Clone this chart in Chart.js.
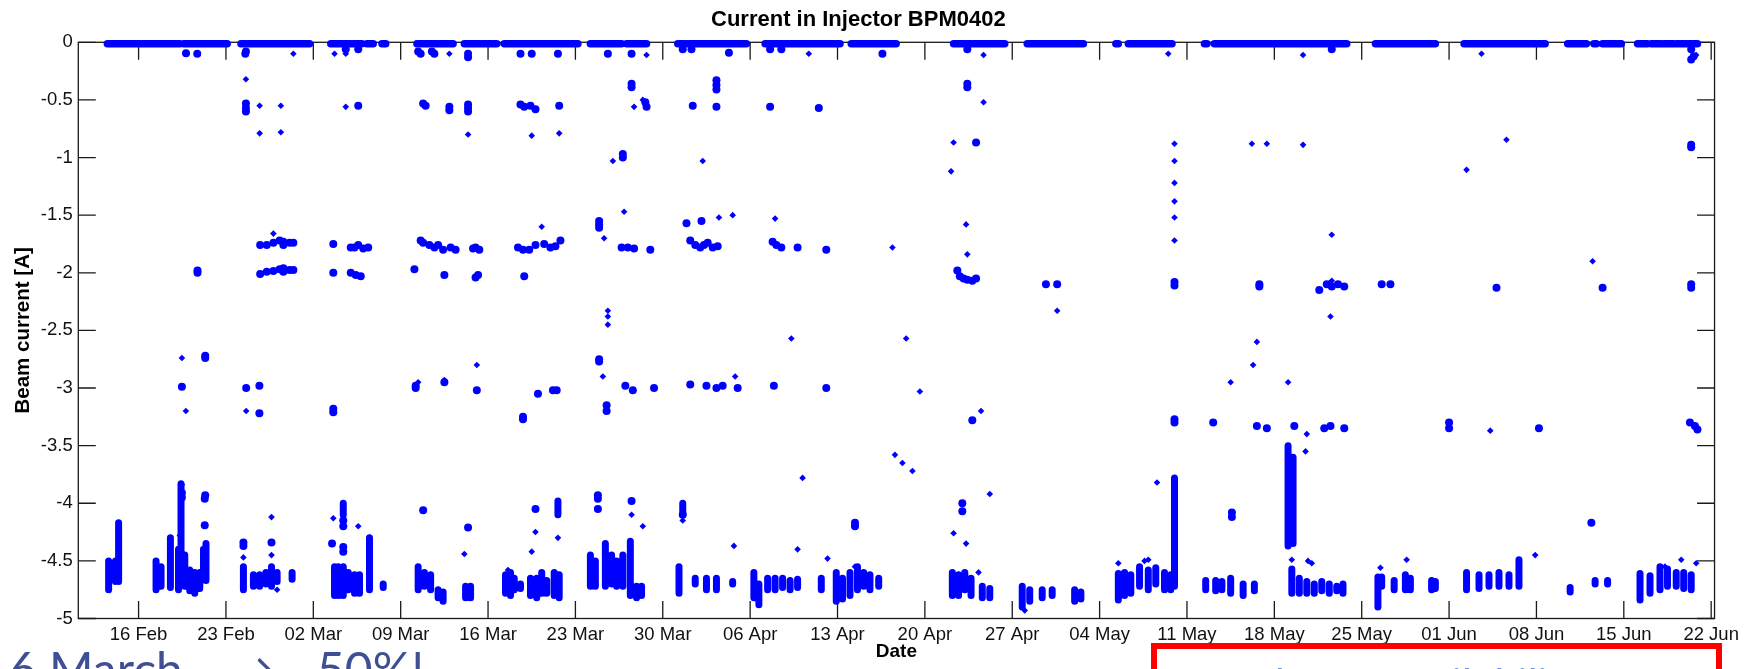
<!DOCTYPE html>
<html lang="en">
<head>
<meta charset="UTF-8">
<title>Current in Injector BPM0402</title>
<script src="https://cdn.jsdelivr.net/npm/chart.js"></script>
<style>
  html, body { margin: 0; padding: 0; background: #fff; overflow: hidden; }
  #wrap { position: relative; width: 1744px; height: 669px; overflow: hidden; }
  #chart { position: absolute; left: 0; top: 0; }
  .note { position: absolute; top: 645px; font-family: Lato, "Open Sans", sans-serif; font-size: 48px; line-height: 48px; color: #3f4f96; white-space: nowrap; }
  #bestBox { position: absolute; left: 1151px; top: 643px; width: 571px; height: 120px; border: 6px solid #ff0000; box-sizing: border-box; }
  #bestText { position: absolute; left: 1182px; top: 662px; font-family: Lato, "Open Sans", sans-serif; font-style: italic; font-size: 44px; line-height: 44px; color: #6d8ee0; white-space: nowrap; }
</style>
</head>
<body>
<div id="wrap">
  <canvas id="chart" width="1744" height="669"></canvas>
  <div class="note" style="left:-19px">16 March</div>
  <div class="note" style="left:228px">→</div>
  <div class="note" style="left:317px">50%!</div>
  <div id="bestBox"></div>
  <div id="bestText">Best beam availability!!</div>
</div>

<script>
// x values are days counted from 16 Feb
const weekTicks = [0, 7, 14, 21, 28, 35, 42, 49, 56, 63, 70, 77, 84, 91, 98, 105, 112, 119, 126];
const weekLabels = ['16 Feb', '23 Feb', '02 Mar', '09 Mar', '16 Mar', '23 Mar', '30 Mar', '06 Apr', '13 Apr',
    '20 Apr', '27 Apr', '04 May', '11 May', '18 May', '25 May', '01 Jun', '08 Jun', '15 Jun', '22 Jun'];
const yTicks = [0, -0.5, -1, -1.5, -2, -2.5, -3, -3.5, -4, -4.5, -5];

// beam off: readings sit on the 0 A line, [start day, end day]
const zeroLevel = -0.012;
const zeroRuns = [[-2.5, 3.3], [3.6, 7.1], [8.2, 13.7], [15.4, 17.9], [18.3, 18.8], [19.5, 19.8], [22.3, 25.2],
    [26.1, 28.7], [29.3, 35.2], [36.2, 38.7], [39.1, 40.7], [43.2, 48.7], [50.2, 56.2], [57.1, 60.7], [65.3, 69.4],
    [71.2, 75.7], [78.3, 78.5], [79.3, 82.8], [85.4, 85.6], [86.2, 96.8], [99.1, 103.9], [106.2, 112.7],
    [114.5, 116.0], [116.6, 116.8], [117.3, 118.8], [120.1, 120.9], [121.2, 122.0], [122.2, 123.0], [123.2, 124.9]];

// dense stacks of readings, [day, top A, bottom A]
const columnRuns = [
    [-2.4, -4.5, -4.75], [-1.85, -4.5, -4.68], [-1.6, -4.17, -4.68], [1.4, -4.5, -4.75], [1.8, -4.55, -4.72],
    [2.55, -4.3, -4.73], [3.2, -4.4, -4.75], [3.4, -3.83, -4.6], [3.7, -4.45, -4.72], [4.1, -4.58, -4.76],
    [4.5, -4.6, -4.78], [4.9, -4.6, -4.74], [5.2, -4.4, -4.65], [5.4, -4.35, -4.67],
    [8.4, -4.55, -4.75], [9.2, -4.62, -4.72], [9.7, -4.62, -4.72], [10.2, -4.6, -4.7], [10.65, -4.55, -4.72],
    [11.1, -4.6, -4.68], [12.3, -4.6, -4.66],
    [15.7, -4.55, -4.8], [16.0, -4.55, -4.8], [16.4, -4.55, -4.8], [16.4, -4.0, -4.1], [16.8, -4.6, -4.75],
    [17.3, -4.62, -4.78], [17.7, -4.62, -4.78], [18.5, -4.3, -4.75], [19.6, -4.7, -4.73],
    [22.4, -4.55, -4.75], [22.9, -4.6, -4.72], [23.4, -4.62, -4.75], [24.0, -4.75, -4.82], [24.4, -4.77, -4.85],
    [26.2, -4.72, -4.82], [26.6, -4.72, -4.82], [29.4, -4.62, -4.78], [29.8, -4.6, -4.8], [30.1, -4.65, -4.75],
    [30.6, -4.7, -4.74], [31.4, -4.65, -4.8], [31.9, -4.65, -4.82], [32.3, -4.6, -4.78], [32.7, -4.67, -4.78],
    [33.3, -4.6, -4.8], [33.7, -4.62, -4.82], [33.6, -3.98, -4.1],
    [36.2, -4.45, -4.72], [36.6, -4.5, -4.72], [37.4, -4.35, -4.72], [37.9, -4.45, -4.7], [38.3, -4.5, -4.72],
    [38.8, -4.45, -4.72], [39.4, -4.33, -4.8], [39.9, -4.72, -4.82], [40.3, -4.72, -4.8], [43.3, -4.55, -4.78],
    [43.6, -4.0, -4.1], [44.6, -4.65, -4.7],
    [45.5, -4.65, -4.75], [46.3, -4.65, -4.75], [47.6, -4.68, -4.7], [49.3, -4.6, -4.82], [49.7, -4.7, -4.88],
    [50.4, -4.65, -4.75], [51.0, -4.65, -4.75], [51.6, -4.65, -4.73], [52.2, -4.67, -4.75], [52.8, -4.66, -4.73],
    [54.7, -4.65, -4.75], [55.9, -4.6, -4.85], [56.4, -4.65, -4.83], [57.0, -4.6, -4.8], [57.6, -4.55, -4.75],
    [58.1, -4.6, -4.72], [58.6, -4.62, -4.75], [59.3, -4.65, -4.72],
    [65.2, -4.6, -4.8], [65.7, -4.62, -4.8], [66.2, -4.6, -4.75], [66.7, -4.65, -4.8], [67.6, -4.72, -4.82],
    [68.2, -4.74, -4.82], [70.8, -4.72, -4.9], [71.4, -4.75, -4.85], [72.4, -4.75, -4.82], [73.2, -4.75, -4.8],
    [75.0, -4.75, -4.85], [75.5, -4.77, -4.83],
    [78.5, -4.61, -4.84], [79.0, -4.6, -4.8], [79.5, -4.62, -4.78], [80.2, -4.55, -4.72], [80.9, -4.58, -4.75],
    [81.5, -4.56, -4.7], [82.2, -4.6, -4.75], [82.7, -4.62, -4.75], [83.0, -3.78, -4.72],
    [85.5, -4.67, -4.75], [86.3, -4.67, -4.76], [86.8, -4.68, -4.75], [87.5, -4.65, -4.78], [88.5, -4.7, -4.8],
    [89.4, -4.7, -4.76],
    [92.1, -3.5, -4.37], [92.5, -3.6, -4.35], [92.4, -4.57, -4.78], [93.0, -4.65, -4.78], [93.6, -4.68, -4.78],
    [94.2, -4.7, -4.78], [94.8, -4.68, -4.76], [95.4, -4.7, -4.78], [96.0, -4.72, -4.76], [96.5, -4.7, -4.78],
    [99.3, -4.64, -4.9], [99.6, -4.64, -4.72], [100.6, -4.67, -4.75], [101.5, -4.62, -4.75], [101.9, -4.65, -4.75],
    [103.6, -4.67, -4.75], [103.9, -4.68, -4.74],
    [106.4, -4.6, -4.75], [107.4, -4.62, -4.74], [108.2, -4.62, -4.72], [109.0, -4.6, -4.72], [109.8, -4.62, -4.72],
    [110.6, -4.49, -4.72], [114.7, -4.73, -4.77], [116.7, -4.67, -4.7], [117.7, -4.67, -4.7],
    [120.3, -4.61, -4.84], [121.1, -4.63, -4.78], [121.9, -4.55, -4.75], [122.5, -4.57, -4.72], [123.2, -4.6, -4.72],
    [123.8, -4.6, -4.74], [124.4, -4.62, -4.75]];

// heavier single readings, [day, A]
const blobs = [
    [3.8, -0.094], [4.7, -0.1], [8.55, -0.1], [8.6, -0.08], [22.6, -0.1], [22.4, -0.08], [23.7, -0.1], [23.5, -0.08],
    [26.4, -0.1], [26.4, -0.13], [30.6, -0.1], [31.5, -0.1], [33.6, -0.1], [37.6, -0.1], [39.5, -0.1], [47.3, -0.09],
    [59.6, -0.1], [124.6, -0.12], [124.4, -0.15], [16.6, -0.06], [17.6, -0.06], [43.6, -0.06], [44.3, -0.06],
    [50.6, -0.06], [51.5, -0.06], [66.4, -0.06], [95.6, -0.06], [124.4, -0.06],
    [8.6, -0.53], [8.6, -0.57], [8.6, -0.6], [17.6, -0.55], [22.8, -0.53], [23.0, -0.55], [24.9, -0.56], [24.9, -0.59],
    [26.4, -0.54], [26.4, -0.57], [26.4, -0.6], [30.6, -0.54], [30.9, -0.56], [31.4, -0.55], [31.8, -0.58],
    [33.7, -0.55], [39.5, -0.36], [39.5, -0.39], [40.6, -0.52], [40.7, -0.56], [44.4, -0.55], [46.3, -0.33],
    [46.3, -0.37], [46.3, -0.41], [46.3, -0.56], [50.6, -0.56], [54.5, -0.57], [66.4, -0.36], [66.4, -0.39],
    [67.1, -0.87], [124.4, -0.89], [124.4, -0.91], [38.8, -0.97], [38.8, -1.0],
    [4.72, -1.98], [4.72, -2.0], [9.74, -1.76], [10.27, -1.76], [10.8, -1.74], [11.3, -1.72], [11.6, -1.73],
    [11.6, -1.76], [12.1, -1.74], [12.4, -1.74], [9.74, -2.01], [10.27, -1.99], [10.8, -1.985], [11.3, -1.97],
    [11.6, -1.96], [11.6, -1.99], [12.1, -1.975], [12.4, -1.975],
    [15.6, -1.75], [15.6, -2.0], [17.0, -1.78], [17.3, -1.78], [17.6, -1.76], [18.0, -1.79], [18.4, -1.78],
    [17.0, -2.0], [17.4, -2.02], [17.8, -2.03],
    [22.6, -1.72], [22.8, -1.74], [23.3, -1.76], [23.7, -1.78], [24.0, -1.76], [24.4, -1.8], [25.0, -1.78],
    [25.4, -1.8], [22.1, -1.97], [24.5, -2.02],
    [26.8, -1.79], [27.0, -1.78], [27.3, -1.8], [27.0, -2.04], [27.2, -2.02],
    [30.4, -1.78], [30.8, -1.8], [31.3, -1.8], [31.8, -1.76], [32.5, -1.75], [33.0, -1.78], [33.4, -1.77],
    [33.8, -1.72], [30.9, -2.03],
    [36.9, -1.55], [36.9, -1.58], [36.9, -1.61], [38.7, -1.78], [39.2, -1.78], [39.7, -1.79], [41.0, -1.8],
    [43.9, -1.57], [44.2, -1.72], [44.6, -1.76], [45.0, -1.78], [45.3, -1.76], [45.6, -1.74], [46.0, -1.78],
    [46.4, -1.77], [45.1, -1.55],
    [50.8, -1.73], [51.1, -1.76], [51.5, -1.78], [52.8, -1.78], [55.1, -1.8],
    [65.6, -1.98], [65.8, -2.03], [66.1, -2.05], [66.4, -2.06], [66.8, -2.07], [67.1, -2.05],
    [72.7, -2.1], [73.6, -2.1], [83.0, -2.08], [83.0, -2.11], [89.8, -2.1], [89.8, -2.12], [95.2, -2.1],
    [95.6, -2.12], [96.1, -2.1], [96.6, -2.12], [94.6, -2.15], [99.6, -2.1], [100.3, -2.1], [108.8, -2.13],
    [117.3, -2.13], [124.4, -2.1], [124.4, -2.13],
    [3.47, -2.99], [5.34, -2.72], [5.34, -2.74], [8.62, -3.0], [9.68, -2.98], [9.68, -3.22], [15.6, -3.18],
    [15.6, -3.21], [22.2, -2.98], [22.2, -3.0], [24.5, -2.95], [27.1, -3.02], [30.8, -3.25], [30.8, -3.27],
    [33.2, -3.02], [33.5, -3.02], [32.0, -3.05], [36.9, -2.75], [36.9, -2.77], [37.5, -3.15], [37.5, -3.2],
    [39.0, -2.98], [39.6, -3.02], [41.3, -3.0], [44.2, -2.97], [45.5, -2.98], [46.3, -3.0], [46.8, -2.98],
    [48.0, -3.0], [50.9, -2.98], [55.1, -3.0], [66.8, -3.28], [83.0, -3.27], [83.0, -3.3], [86.1, -3.3],
    [89.6, -3.33], [90.4, -3.35], [92.6, -3.33], [95.0, -3.35], [95.5, -3.33], [96.6, -3.35], [105.0, -3.3],
    [105.0, -3.35], [112.2, -3.35], [124.3, -3.3], [124.7, -3.33], [124.9, -3.36],
    [3.47, -3.91], [3.47, -3.95], [5.34, -3.93], [5.3, -3.96], [5.3, -4.19], [16.4, -4.15], [16.4, -4.2],
    [22.8, -4.06], [26.4, -4.21], [31.8, -4.05], [36.8, -3.93], [36.8, -3.96], [36.8, -4.05], [39.5, -3.98],
    [43.6, -4.1], [57.4, -4.17], [57.4, -4.2], [66.0, -4.0], [66.0, -4.07], [87.6, -4.08], [87.6, -4.12],
    [116.4, -4.17], [8.4, -4.34], [8.4, -4.37], [10.65, -4.34], [15.5, -4.35], [16.4, -4.38], [16.4, -4.42]];

// lone light readings, [day, A]
const specks = [
    [12.4, -0.1], [15.7, -0.1], [16.6, -0.1], [24.9, -0.1], [40.7, -0.11], [53.7, -0.1], [67.7, -0.11],
    [82.5, -0.1], [93.3, -0.11], [107.6, -0.1], [124.8, -0.11],
    [8.6, -0.32], [9.7, -0.55], [11.4, -0.55], [9.7, -0.79], [11.4, -0.78], [16.6, -0.56], [26.4, -0.8],
    [31.5, -0.81], [33.7, -0.79], [39.7, -0.56], [40.4, -0.5], [67.7, -0.52], [65.3, -0.87], [65.1, -1.12],
    [93.3, -0.89], [106.4, -1.107], [109.6, -0.846], [89.2, -0.88], [90.4, -0.88], [38.0, -1.03], [45.2, -1.03],
    [83.0, -0.88], [83.0, -1.03], [83.0, -1.22], [83.0, -1.38], [83.0, -1.52], [83.0, -1.72],
    [10.8, -1.66], [32.3, -1.6], [37.3, -1.7], [38.9, -1.47], [46.5, -1.52], [47.6, -1.5], [51.0, -1.53],
    [60.4, -1.78], [66.3, -1.58], [66.4, -1.84], [95.6, -1.67], [95.6, -2.07], [116.5, -1.9], [95.5, -2.38],
    [73.6, -2.33], [37.6, -2.33], [37.6, -2.38], [37.6, -2.45], [52.3, -2.57], [61.5, -2.57], [89.6, -2.6],
    [3.47, -2.74], [3.79, -3.2], [8.62, -3.2], [22.4, -2.95], [24.5, -2.93], [27.1, -2.8], [37.2, -2.9],
    [47.8, -2.9], [62.6, -3.03], [67.5, -3.2], [87.5, -2.95], [89.3, -2.8], [92.1, -2.95], [93.6, -3.4],
    [93.5, -3.55], [108.3, -3.37], [53.2, -3.78], [60.6, -3.58], [61.2, -3.65], [62.0, -3.72], [81.6, -3.82],
    [68.2, -3.92], [3.47, -3.84],
    [-1.6, -4.47], [3.3, -4.28], [8.4, -4.47], [10.65, -4.12], [10.65, -4.45], [11.1, -4.75], [15.6, -4.13],
    [17.6, -4.2], [18.5, -4.3], [26.1, -4.44], [29.6, -4.58], [31.8, -4.25], [31.5, -4.42], [33.6, -4.3],
    [39.5, -4.1], [40.4, -4.2], [43.6, -4.15], [47.7, -4.37], [52.8, -4.4], [55.2, -4.48], [57.4, -4.55],
    [65.3, -4.26], [66.3, -4.35], [67.3, -4.6], [71.0, -4.93], [80.6, -4.5], [78.5, -4.52], [80.9, -4.49],
    [92.4, -4.49], [93.7, -4.5], [94.0, -4.52], [99.5, -4.56], [101.6, -4.49], [111.9, -4.45], [122.3, -4.55],
    [123.6, -4.49], [124.8, -4.52]];

const blue = '#0000ff';
const font = '"Liberation Sans", Arial, sans-serif';

// runs become line pieces broken by null points
const bandData = [];
zeroRuns.forEach(([a, b]) => bandData.push({x: a, y: zeroLevel}, {x: b, y: zeroLevel}, {x: b, y: null}));
const columnData = [];
columnRuns.forEach(([d, t, b]) => columnData.push({x: d, y: t}, {x: d, y: b}, {x: d, y: null}));

// MATLAB style box with ticks pointing inwards
const matlabFrame = {
    id: 'matlabFrame',
    beforeDatasetsDraw(chart) {
        const {ctx, chartArea: a, scales: {x, y}} = chart;
        const len = 17.5;
        ctx.save();
        ctx.strokeStyle = '#1a1a1a';
        ctx.lineWidth = 1.3;
        ctx.strokeRect(a.left, a.top, a.right - a.left, a.bottom - a.top);
        ctx.beginPath();
        x.ticks.forEach(t => {
            const px = x.getPixelForValue(t.value);
            ctx.moveTo(px, a.bottom); ctx.lineTo(px, a.bottom - len);
            ctx.moveTo(px, a.top); ctx.lineTo(px, a.top + len);
        });
        y.ticks.forEach(t => {
            const py = y.getPixelForValue(t.value);
            ctx.moveTo(a.left, py); ctx.lineTo(a.left + len, py);
            ctx.moveTo(a.right, py); ctx.lineTo(a.right - len, py);
        });
        ctx.stroke();
        ctx.restore();
    }
};

new Chart(document.getElementById('chart'), {
    type: 'scatter',
    data: {
        datasets: [
            {
                label: 'beam off', data: bandData, showLine: true, spanGaps: false,
                borderColor: blue, borderWidth: 7.5, borderCapStyle: 'round',
                pointRadius: 0, pointHoverRadius: 0, clip: 8
            },
            {
                label: 'dense', data: columnData, showLine: true, spanGaps: false,
                borderColor: blue, borderWidth: 7, borderCapStyle: 'round',
                pointRadius: 0, pointHoverRadius: 0, clip: 8
            },
            {
                label: 'blobs', data: blobs.map(([d, v]) => ({x: d, y: v})),
                pointStyle: 'circle', pointRadius: 4, backgroundColor: blue, borderWidth: 0, clip: 8
            },
            {
                label: 'specks', data: specks.map(([d, v]) => ({x: d, y: v})),
                pointStyle: 'rectRot', pointRadius: 3.3, backgroundColor: blue, borderWidth: 0, clip: 8
            }
        ]
    },
    options: {
        responsive: false,
        animation: false,
        devicePixelRatio: 1,
        layout: { padding: { left: 0, right: 27.3, top: 0, bottom: 0 } },
        plugins: {
            legend: { display: false },
            tooltip: { enabled: false },
            title: {
                display: true,
                text: 'Current in Injector BPM0402',
                color: '#000',
                font: { family: font, size: 22, weight: 'bold', lineHeight: 1.2 },
                padding: { top: 7, bottom: 8.9 }
            }
        },
        scales: {
            x: {
                type: 'linear',
                min: -4.83,
                max: 126.27,
                offset: false,
                afterFit: s => { s.height = 50.5; },
                afterBuildTicks: s => { s.ticks = weekTicks.map(v => ({value: v})); },
                grid: { display: false, drawTicks: false },
                border: { display: false },
                ticks: {
                    autoSkip: false, maxRotation: 0, padding: 5, color: '#111',
                    font: { family: font, size: 18.5 },
                    callback: v => weekLabels[weekTicks.indexOf(v)] ?? ''
                },
                title: {
                    display: true, text: 'Date', color: '#000',
                    font: { family: font, size: 19, weight: 'bold', lineHeight: 1.2 },
                    padding: { top: 0, bottom: 6 }
                }
            },
            y: {
                type: 'linear',
                min: -5,
                max: 0,
                afterFit: s => { s.width = 78.3; },
                afterBuildTicks: s => { s.ticks = yTicks.map(v => ({value: v})); },
                grid: { display: false, drawTicks: false },
                border: { display: false },
                ticks: {
                    padding: 5.6, color: '#111',
                    font: { family: font, size: 18.5 },
                    callback: v => String(v)
                },
                title: {
                    display: true, text: 'Beam current [A]', color: '#000',
                    font: { family: font, size: 20.5, weight: 'bold', lineHeight: 1.2 },
                    padding: { top: 10.7, bottom: 0 }
                }
            }
        }
    },
    plugins: [matlabFrame]
});
</script>
</body>
</html>
